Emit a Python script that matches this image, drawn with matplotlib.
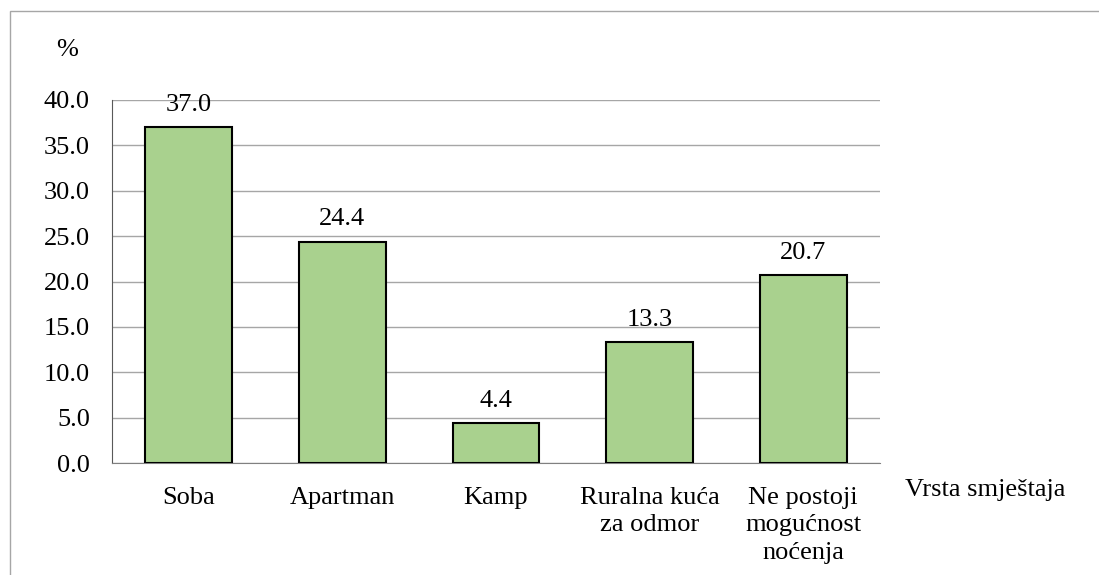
import matplotlib.pyplot as plt
from matplotlib.patches import Rectangle

categories = ['Soba', 'Apartman', 'Kamp', 'Ruralna kuća\nza odmor', 'Ne postoji\nmogućnost\nnoćenja']
values = [37.0, 24.4, 4.4, 13.3, 20.7]
yticks = [0, 5, 10, 15, 20, 25, 30, 35, 40]

plt.rcParams['font.family'] = ['Liberation Serif', 'DejaVu Serif']
fs = 19

fig = plt.figure(figsize=(10.99, 5.75), dpi=100)
# outer frame of the chart area
fig.patches.append(Rectangle((10 / 1099, -0.1), 1.2, (575 - 11) / 575 + 0.1,
                             transform=fig.transFigure, fill=False,
                             edgecolor='#A6A6A6', linewidth=1))

ax = fig.add_axes([112 / 1099, 1 - 463 / 575, (880 - 112) / 1099, (463 - 100) / 575])
x = range(len(categories))
bars = ax.bar(x, values, width=0.565, color='#A9D18E', edgecolor='black', linewidth=1.5, zorder=3)

for xi, v in zip(x, values):
    ax.annotate(f'{v:.1f}', (xi, v), xytext=(0, 8), textcoords='offset points',
                ha='center', va='bottom', fontsize=fs)

ax.set_xlim(-0.5, len(categories) - 0.5)
ax.set_ylim(0, 40)
ax.set_yticks(yticks)
ax.set_yticklabels([f'{t:.1f}' for t in yticks], fontsize=fs)
ax.set_xticks(list(x))
ax.set_xticklabels(categories, fontsize=fs, linespacing=1.33, va='top')
ax.tick_params(axis='x', length=0, pad=17)
ax.tick_params(axis='y', length=0, pad=16)
ax.grid(axis='y', color='#A6A6A6', linewidth=1, zorder=0)

for s in ['top', 'right']:
    ax.spines[s].set_visible(False)
ax.spines['left'].set_color('#595959')
ax.spines['bottom'].set_color('#808080')

fig.text(67 / 1099, 1 - 50 / 575, '%', fontsize=fs, ha='center', va='center')
fig.text(905 / 1099, 1 - 490 / 575, 'Vrsta smještaja', fontsize=fs, ha='left', va='center')

fig.savefig('out.png', dpi=100)
